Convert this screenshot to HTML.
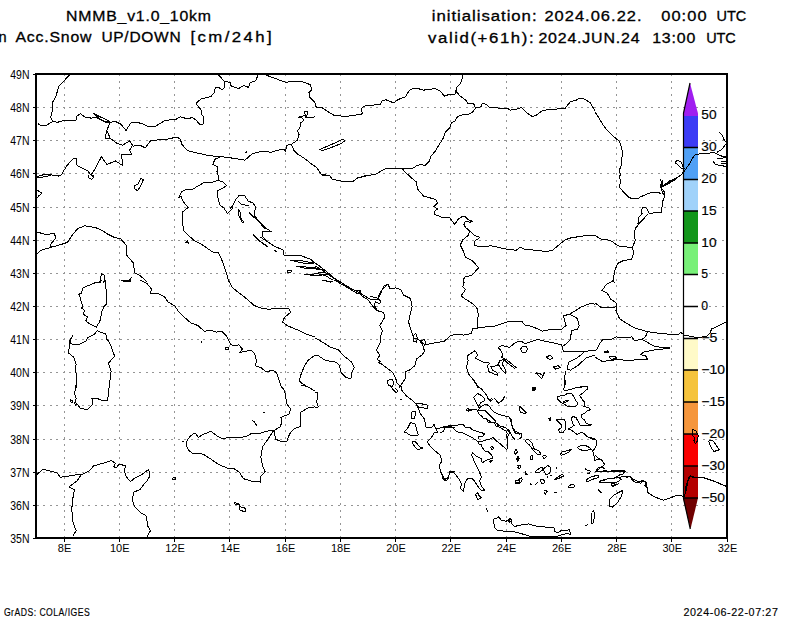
<!DOCTYPE html><html><head><meta charset="utf-8"><style>html,body{margin:0;padding:0;background:#fff;width:800px;height:618px;overflow:hidden}svg{display:block}text{font-family:"Liberation Sans",sans-serif;fill:#000}.b{stroke:#000;stroke-width:0.15px}.t{stroke:#000;stroke-width:0.3px}.b2{stroke:#000;stroke-width:0.15px;letter-spacing:0.6px}</style></head><body>
<svg width="800" height="618" viewBox="0 0 800 618">
<rect width="800" height="618" fill="#fff"/>
<path d="M64.5 75V537 M119.5 75V537 M174.5 75V537 M229.5 75V537 M285.5 75V537 M340.5 75V537 M395.5 75V537 M450.5 75V537 M506.5 75V537 M561.5 75V537 M616.5 75V537 M671.5 75V537" stroke="#959595" stroke-width="1" stroke-dasharray="2 4.6" stroke-dashoffset="1" fill="none" shape-rendering="crispEdges"/>
<path d="M37 505.5H726 M37 472.5H726 M37 439.5H726 M37 405.5H726 M37 372.5H726 M37 339.5H726 M37 306.5H726 M37 273.5H726 M37 240.5H726 M37 207.5H726 M37 173.5H726 M37 140.5H726 M37 107.5H726" stroke="#959595" stroke-width="1" stroke-dasharray="2 4.4" stroke-dashoffset="0" fill="none" shape-rendering="crispEdges"/>
<rect x="683" y="115.5" width="15" height="32.0" fill="#3c3cf5"/>
<rect x="683" y="147.5" width="15" height="32.0" fill="#50a0f5"/>
<rect x="683" y="179.5" width="15" height="31.5" fill="#a0d2fa"/>
<rect x="683" y="211" width="15" height="32" fill="#12961a"/>
<rect x="683" y="243" width="15" height="31.5" fill="#78f078"/>
<rect x="683" y="338.5" width="15" height="31.5" fill="#fffac8"/>
<rect x="683" y="370" width="15" height="32" fill="#f5c33c"/>
<rect x="683" y="402" width="15" height="32" fill="#f5963c"/>
<rect x="683" y="434" width="15" height="32" fill="#fa0000"/>
<rect x="683" y="466" width="15" height="32" fill="#b40000"/>
<path d="M683 116 L683.5 113 L690 83 L698 113.5 L698 116 Z" fill="#a01ef0"/>
<path d="M683 498 L698 498 L690.5 529 Z" fill="#700000"/>
<path d="M690 83 L683.5 113 L683.5 498.5 L690.3 529" stroke="#000" stroke-width="1.2" fill="none"/>
<path d="M683 147.5H698 M683 179.5H698 M683 211H698 M683 243H698 M683 274.5H698 M683 306.5H698 M683 338.5H698 M683 370H698 M683 402H698 M683 434H698 M683 466H698 M683 498H698" stroke="#000" stroke-width="1.4"/>
<text x="701.3" y="119.4" font-size="12.5" class="b" textLength="15.2" lengthAdjust="spacingAndGlyphs">50</text>
<text x="701.3" y="151.4" font-size="12.5" class="b" textLength="15.2" lengthAdjust="spacingAndGlyphs">30</text>
<text x="701.3" y="183.4" font-size="12.5" class="b" textLength="15.2" lengthAdjust="spacingAndGlyphs">20</text>
<text x="701.3" y="214.9" font-size="12.5" class="b" textLength="15.2" lengthAdjust="spacingAndGlyphs">15</text>
<text x="701.3" y="246.9" font-size="12.5" class="b" textLength="15.2" lengthAdjust="spacingAndGlyphs">10</text>
<text x="701.3" y="278.4" font-size="12.5" class="b" textLength="6.8" lengthAdjust="spacingAndGlyphs">5</text>
<text x="701.3" y="310.4" font-size="12.5" class="b" textLength="6.8" lengthAdjust="spacingAndGlyphs">0</text>
<text x="701.3" y="342.4" font-size="12.5" class="b" textLength="16.2" lengthAdjust="spacingAndGlyphs">−5</text>
<text x="701.3" y="373.9" font-size="12.5" class="b" textLength="23.6" lengthAdjust="spacingAndGlyphs">−10</text>
<text x="701.3" y="405.9" font-size="12.5" class="b" textLength="23.6" lengthAdjust="spacingAndGlyphs">−15</text>
<text x="701.3" y="437.9" font-size="12.5" class="b" textLength="23.6" lengthAdjust="spacingAndGlyphs">−20</text>
<text x="701.3" y="469.9" font-size="12.5" class="b" textLength="23.6" lengthAdjust="spacingAndGlyphs">−30</text>
<text x="701.3" y="501.9" font-size="12.5" class="b" textLength="23.6" lengthAdjust="spacingAndGlyphs">−50</text>
<path d="M70.0 74.4 58.6 86.6 56.0 96.2 52.5 102.4 52.5 110.2 50.8 117.2 52.5 121.6 M37.6 123.4 42.0 126.0 45.5 125.7 52.5 121.6 57.8 122.2 63.0 120.8 70.0 120.8 77.0 119.9 76.1 116.4 80.5 113.8 84.9 116.9 91.0 118.1 96.2 117.6 105.0 121.6 111.1 122.5 114.6 121.1 120.8 124.2 126.0 130.4 131.2 122.5 136.5 122.5 141.8 123.4 148.8 126.9 155.8 126.0 164.5 120.8 175.0 119.0 M92.8 113.2 98.0 115.8 105.0 119.0 112.0 123.0 105.0 122.2 99.8 119.0 92.8 113.2 M110.2 122.5 106.8 130.4 105.0 138.2 110.2 138.2 106.8 130.4 M110.2 138.2 117.2 143.5 122.5 145.2 129.5 140.9 133.0 146.1 140.0 145.2 145.2 147.9 150.5 140.9 157.5 140.0 168.0 139.1 175.0 137.4 M132.1 146.1 129.5 150.5 132.1 154.9 121.6 154.0 122.5 165.4 115.5 161.0 106.8 164.5 101.5 156.6 94.5 169.8 91.0 175.0 93.6 178.0 M91.0 175.0 87.5 170.6 77.0 165.4 76.1 158.4 72.6 159.2 66.5 166.2 61.2 175.0 57.8 175.9 45.5 174.1 36.8 176.8 M619.5 175.0 620.4 182.0 619.5 187.2 623.9 192.5 629.1 197.8 637.0 199.0 640.5 196.9 646.6 194.2 651.9 192.5 658.0 192.2 661.5 194.2 M680.8 175.0 675.5 178.5 670.2 181.1 665.0 185.5 662.4 186.4 662.4 180.2 660.6 185.5 661.5 190.8 665.0 191.6 664.1 197.8 662.4 202.1 661.5 212.6 649.2 213.2 646.6 208.2 643.1 207.4 640.9 210.9 642.2 213.5 638.8 217.0 637.9 224.0 641.4 221.4 647.5 214.4 635.2 228.4 634.4 234.5 635.2 240.6 632.6 246.8 633.5 253.8 631.8 259.0 623.0 260.8 617.8 263.4 615.1 269.5 613.4 278.2 614.2 283.0 M666.8 184.6 672.0 181.1 675.5 179.4 668.5 183.8 M595.0 235.4 600.2 238.9 607.2 239.8 612.5 241.5 617.8 245.9 632.6 247.6 M101.5 280.0 100.6 282.6 95.4 282.6 91.0 284.4 83.1 287.9 81.4 293.1 78.8 294.0 80.5 298.4 81.4 302.8 83.1 306.2 81.4 308.0 84.9 310.6 83.1 314.1 87.5 316.8 85.8 321.1 91.0 324.6 96.2 327.2 98.9 322.9 100.6 319.4 101.5 312.4 104.1 306.2 106.8 303.6 105.9 287.0 105.0 280.0 M97.1 330.8 94.5 334.2 87.5 337.8 85.8 341.2 78.8 344.8 70.9 343.9 70.0 341.2 72.6 336.0 69.1 341.2 69.1 348.2 68.2 352.6 73.5 357.0 76.1 364.0 75.2 371.0 77.0 376.2 76.1 388.0 M97.1 330.8 101.5 332.5 105.9 334.2 106.8 339.5 108.5 341.2 111.1 346.5 114.6 356.1 108.5 363.1 111.1 371.0 110.2 378.0 109.4 388.0 M120.8 280.0 126.0 281.8 131.2 280.0 M140.0 280.0 147.0 283.5 151.4 288.8 150.5 293.1 157.5 293.1 164.5 296.6 168.0 301.9 175.0 306.2 M228.4 280.0 231.9 287.0 238.0 292.2 245.0 297.5 250.2 301.9 253.8 305.4 260.8 308.0 269.5 309.4 276.5 308.0 288.8 308.4 290.5 312.4 284.4 317.6 282.6 322.0 287.0 325.5 297.5 329.9 306.2 334.2 315.0 336.9 M175.0 306.2 178.5 311.5 182.9 315.9 190.8 322.9 197.8 325.5 204.8 331.6 209.1 329.9 216.1 332.1 222.2 331.6 226.6 336.0 231.0 344.8 236.2 345.6 238.9 344.8 242.4 349.1 239.8 352.6 245.0 351.4 251.1 350.0 254.6 353.5 256.4 360.5 255.5 365.8 260.8 367.5 266.0 371.9 273.0 370.1 276.5 372.8 280.0 383.2 281.8 388.0 M201.2 341.2 201.2 343.4 M225.4 347.7 228.4 347.4 228.4 349.1 225.4 349.1 225.4 347.7 M315.0 355.2 308.0 360.5 304.5 365.8 301.0 374.5 299.2 380.6 302.8 384.1 308.0 387.1 M322.0 280.0 327.2 281.4 332.5 281.8 M334.2 280.0 346.5 287.0 355.2 292.2 359.6 290.5 361.4 295.8 367.5 299.2 372.8 306.2 377.1 310.6 383.2 312.4 385.0 316.8 382.4 321.1 379.8 325.5 382.4 330.8 380.6 336.0 380.6 341.2 378.9 345.6 376.2 350.0 379.8 355.2 377.1 359.6 380.6 361.4 378.0 362.2 381.5 364.0 388.5 369.2 392.9 372.8 395.5 378.0 397.2 383.2 400.8 387.1 M370.1 296.6 376.2 297.5 380.6 301.0 379.8 303.6 375.4 301.9 374.5 305.4 377.1 310.6 M378.0 297.5 381.5 290.5 387.6 284.4 390.2 288.8 395.5 287.9 400.8 289.6 403.4 294.9 410.4 298.4 412.1 306.2 410.4 313.2 408.6 322.0 411.2 330.8 413.9 337.8 420.0 340.4 422.6 343.0 425.2 344.8 434.0 343.0 444.5 341.2 449.8 336.0 455.0 334.2 M413.0 336.0 415.6 333.4 417.4 337.8 416.5 342.1 413.9 341.2 413.0 336.0 M420.0 341.2 424.4 339.5 426.1 343.0 423.5 346.5 421.8 343.9 420.0 341.2 M423.5 346.5 424.4 351.8 421.8 355.2 416.5 358.8 414.8 365.8 409.5 370.1 405.1 371.9 406.0 377.1 403.4 381.5 400.8 385.0 399.0 388.0 M386.8 380.6 392.0 378.9 393.8 383.2 392.0 387.1 388.5 385.0 386.8 380.6 M315.0 337.8 323.8 343.0 330.8 347.4 338.6 350.0 343.0 355.2 351.8 362.2 354.4 367.5 351.8 372.8 350.9 378.9 345.6 377.1 341.2 372.8 339.5 365.8 336.0 362.2 325.5 360.5 320.2 357.0 317.6 355.2 315.0 355.2 M463.8 280.0 462.9 287.0 465.5 289.6 461.1 295.8 465.5 299.2 472.5 303.6 476.9 308.0 478.6 315.9 477.4 318.5 477.8 328.1 M455.0 334.2 463.8 335.1 471.6 333.4 472.5 329.0 477.8 328.1 485.6 326.9 493.5 326.4 504.0 322.9 507.5 322.0 514.5 321.1 521.5 321.1 525.0 325.1 532.0 326.4 542.5 331.1 553.0 329.0 561.8 329.0 566.1 325.5 564.4 320.2 563.5 315.9 569.6 314.1 574.0 311.5 581.0 307.1 589.8 303.6 595.0 304.1 M569.6 314.1 577.5 318.5 579.2 325.5 577.5 329.0 571.4 330.8 570.5 339.5 567.0 343.0 562.6 346.5 M497.9 347.4 502.2 345.6 509.2 347.4 516.2 342.1 521.5 341.2 525.0 343.9 532.0 341.2 537.2 339.5 549.5 342.1 561.8 344.8 562.6 349.1 563.5 351.8 577.5 351.8 584.5 351.8 581.9 354.4 575.8 358.8 568.8 362.2 567.0 369.2 570.5 370.1 577.5 365.8 586.2 357.9 595.0 355.2 M584.5 351.8 593.2 350.0 595.0 350.9 M565.2 371.0 564.4 388.0 M520.6 349.1 522.4 346.5 525.9 346.1 527.6 349.1 525.9 352.6 522.4 352.6 520.6 349.1 M497.9 347.4 500.5 350.0 503.1 355.2 501.4 357.0 507.5 360.5 516.2 367.5 514.5 368.4 506.6 362.2 504.0 359.6 499.6 360.5 497.9 364.0 501.4 369.2 505.8 373.6 505.8 370.1 502.2 364.0 504.0 359.6 M499.6 361.4 497.0 365.8 490.9 366.6 492.6 370.1 497.0 372.8 497.9 375.4 489.1 371.9 487.4 365.8 490.0 363.1 483.0 362.2 475.1 357.9 477.8 355.2 476.0 351.8 474.2 350.9 467.2 356.1 468.1 360.5 466.4 367.5 469.0 374.5 476.0 383.2 477.8 388.0 M546.0 357.0 550.4 355.2 553.0 357.9 549.5 359.6 546.0 357.0 M553.0 366.6 558.2 365.8 560.9 367.5 555.6 369.2 553.0 366.6 M535.5 372.8 539.0 376.2 541.6 378.9 545.1 371.9 542.5 375.4 539.9 373.6 535.5 372.8 M577.5 387.1 586.2 386.8 M614.2 280.0 609.9 282.6 606.4 284.4 602.0 290.5 607.2 293.1 610.8 299.2 616.0 302.8 616.9 306.2 616.0 310.6 619.5 318.5 625.6 322.9 635.2 328.1 647.5 331.6 656.2 332.9 668.5 334.2 679.0 334.2 680.8 332.5 684.2 335.1 693.0 336.9 698.2 337.8 707.0 336.0 710.5 332.5 711.4 329.0 717.5 326.4 724.5 322.9 727.1 321.1 M595.0 302.8 602.0 308.0 605.5 307.1 609.9 307.1 612.5 308.0 616.9 306.2 M647.5 331.6 645.8 336.0 642.2 339.5 648.4 343.0 654.5 346.5 663.2 347.4 670.2 347.4 M642.2 339.5 634.4 340.4 631.8 336.9 625.6 337.8 616.0 336.9 610.8 339.5 602.9 339.5 600.2 343.0 596.8 349.1 595.0 350.9 M595.0 357.0 602.0 361.4 610.8 360.5 616.9 359.6 630.0 360.5 637.0 359.6 647.5 359.6 645.8 356.1 640.5 354.4 644.0 351.8 654.5 350.0 670.2 348.2 M603.8 351.8 607.2 350.9 609.0 352.1 605.5 352.6 603.8 351.8 M609.0 357.0 614.2 356.1 616.9 357.9 611.6 359.6 609.0 357.0 M76.1 385.0 74.4 393.8 76.1 398.1 75.2 402.5 77.9 405.1 80.5 408.6 87.5 409.5 92.8 404.2 91.9 398.1 96.2 398.1 103.2 400.8 107.6 400.8 109.4 385.0 M70.0 399.9 72.6 400.4 72.1 402.5 70.0 401.6 70.0 399.9 M74.4 402.5 76.7 403.4 75.6 406.0 74.4 402.5 M280.0 385.0 284.4 390.2 286.1 399.0 287.0 404.2 290.5 408.6 289.6 413.9 285.2 415.6 280.9 417.4 281.8 422.6 280.0 427.0 275.6 429.6 273.9 430.5 275.6 439.2 280.0 441.0 287.0 441.0 289.6 434.0 294.0 428.8 301.0 426.1 300.1 420.0 301.0 412.1 308.0 407.8 315.0 406.9 M301.0 385.0 308.0 386.8 315.0 391.1 M273.9 430.1 266.0 431.4 260.8 433.1 252.0 433.1 247.6 435.8 241.5 437.5 232.8 437.5 221.4 438.4 217.0 435.8 210.9 431.4 206.5 433.1 202.1 434.9 198.6 437.5 196.0 434.0 194.2 433.1 189.9 436.6 187.2 440.1 186.4 445.4 189.0 450.6 192.5 453.2 203.0 454.1 210.0 458.5 218.8 464.6 227.5 468.1 234.5 469.0 239.8 472.5 243.2 478.6 252.0 481.2 260.8 482.1 260.8 476.0 265.1 471.6 262.5 465.5 260.8 456.8 262.5 447.1 267.8 439.2 273.9 430.1 M252.0 420.0 254.6 422.1 257.2 426.1 255.1 424.4 M263.4 413.0 264.6 412.1 M182.3 441.0 184.1 441.4 M315.0 392.0 317.6 392.9 316.8 402.5 318.5 406.9 315.0 407.8 M390.2 385.0 392.9 389.4 396.4 392.9 398.1 391.1 394.6 387.6 M400.8 385.0 401.6 390.2 406.0 395.5 413.0 400.8 416.5 404.2 418.2 406.9 420.0 413.0 424.4 419.1 426.1 427.0 431.4 427.9 434.0 424.4 435.8 428.8 437.5 432.2 434.0 433.1 431.4 437.5 427.0 441.9 429.6 445.4 435.8 451.5 440.1 455.0 441.9 461.1 439.2 465.5 441.0 472.5 444.5 479.5 448.0 477.8 449.8 472.5 455.0 471.6 M416.5 404.2 420.0 403.4 427.0 405.1 427.0 408.6 422.6 407.8 417.4 407.8 416.5 404.2 M412.1 411.2 415.6 411.2 414.8 418.2 412.1 419.1 411.2 414.8 412.1 411.2 M404.2 432.2 407.8 427.9 410.4 422.6 414.8 423.5 416.5 428.8 418.2 434.9 413.9 435.8 409.5 434.9 406.9 433.1 404.2 432.2 M412.1 441.9 415.6 441.9 420.0 447.1 422.6 448.0 418.2 449.8 414.8 447.1 412.1 441.9 M435.8 428.8 444.5 427.0 449.8 426.1 455.0 427.9 M400.4 398.6 401.6 400.1 M440.0 427.8 445.2 426.5 449.7 425.8 463.3 424.5 465.9 427.8 469.8 427.1 472.4 429.7 477.5 431.7 484.7 433.6 482.7 436.2 478.8 436.8 478.2 439.4 M440.0 432.9 443.2 431.7 445.2 427.8 449.7 427.8 452.9 427.8 456.8 431.7 462.7 432.9 468.5 435.5 475.0 439.4 478.8 442.0 478.2 443.9 481.4 444.6 482.1 447.2 485.3 451.7 488.5 451.1 489.2 453.0 491.8 455.0 492.4 458.2 487.9 459.5 483.4 462.1 482.1 462.7 481.4 458.8 477.5 456.9 472.4 453.0 471.7 455.0 473.7 460.1 476.2 465.3 478.8 470.5 481.4 477.0 479.5 480.8 481.4 486.0 484.7 490.6 481.4 490.6 477.5 486.0 474.3 480.8 472.4 478.9 467.8 478.3 465.2 482.1 463.9 488.6 463.9 491.8 460.7 488.6 461.4 483.4 459.4 479.5 454.9 473.7 452.9 471.8 449.7 471.8 449.1 474.4 447.8 479.5 445.8 480.8 442.6 478.9 441.9 474.4 440.0 470.5 M478.8 442.0 484.0 440.7 490.5 438.8 493.1 437.5 497.0 441.4 500.2 443.9 504.7 447.8 506.7 449.8 508.0 445.9 507.3 436.8 509.9 432.9 506.0 427.8 499.5 425.8 495.7 422.6 491.8 422.6 487.9 420.0 M490.2 447.2 491.8 446.5 493.7 447.8 492.4 449.8 490.2 447.2 M489.2 461.4 493.1 460.1 489.8 462.7 M513.8 452.4 516.4 449.8 517.7 451.7 515.7 454.3 513.8 452.4 M517.0 457.5 518.3 456.9 519.0 459.5 517.7 461.4 517.0 457.5 M517.7 467.9 519.0 466.0 M515.7 480.8 519.6 480.6 519.2 483.4 515.7 483.4 515.7 480.8 M475.6 494.4 477.5 492.5 478.8 495.1 481.4 497.7 477.5 499.6 475.6 494.4 M510.6 420.0 512.5 427.8 515.1 432.9 520.0 434.2 M474.5 380.0 475.0 382.5 476.5 385.0 479.0 387.5 481.5 389.0 484.0 392.0 486.5 395.0 488.0 398.5 489.5 400.0 M473.5 397.5 477.5 393.5 481.5 395.5 484.5 398.5 484.0 401.0 480.5 403.0 479.0 405.5 478.5 407.5 477.5 405.0 475.5 400.5 473.5 397.5 M489.5 400.0 491.5 398.5 492.5 399.5 490.5 401.0 489.5 400.0 M494.5 398.0 497.0 401.5 499.0 403.0 501.0 401.5 503.0 399.0 504.5 396.5 503.5 399.5 501.0 401.0 498.0 403.5 M478.0 410.0 481.0 406.5 485.0 404.5 487.0 404.5 489.5 406.5 491.0 409.0 494.5 412.5 499.0 414.5 503.0 415.5 509.0 417.0 512.0 421.0 511.5 424.0 513.0 428.0 515.0 431.0 518.0 432.5 521.5 434.0 522.0 437.0 519.0 439.0 M478.0 410.0 485.0 410.5 488.0 413.5 491.0 416.5 495.0 420.5 496.0 423.0 498.0 425.5 503.0 427.0 506.0 428.0 509.0 430.5 510.0 432.0 512.0 436.0 515.0 440.0 M466.0 410.0 467.5 408.5 470.5 410.0 471.5 410.0 475.0 409.0 477.0 410.0 479.0 414.0 482.0 416.5 483.5 418.5 486.0 418.0 487.5 420.0 488.0 422.0 494.0 422.5 496.0 426.0 500.0 427.5 506.0 431.0 507.5 433.5 506.5 435.0 507.5 440.0 M466.0 410.0 468.0 411.2 471.0 410.0 M519.0 406.5 520.5 407.0 526.0 412.5 525.0 413.5 521.0 412.5 519.0 409.0 519.0 406.5 M532.0 388.5 534.0 387.0 535.0 390.0 533.0 390.5 532.0 388.5 M565.5 380.0 565.0 385.0 563.5 390.0 568.0 390.0 571.0 389.5 575.0 388.0 582.0 387.0 587.0 386.5 587.5 389.0 584.0 392.0 579.5 395.5 582.0 399.0 585.0 403.0 584.0 406.5 589.0 408.0 590.5 410.0 587.5 410.5 585.0 413.0 582.0 414.5 581.5 417.5 584.5 420.0 586.0 423.0 588.0 424.0 592.0 424.5 590.0 425.5 586.0 425.5 582.0 426.0 580.0 425.0 579.0 423.0 577.0 419.5 576.0 417.5 573.0 416.5 571.5 418.0 572.5 423.0 574.0 425.5 572.0 427.0 568.5 429.0 571.0 430.0 574.0 432.0 577.0 434.5 582.0 432.0 585.0 434.5 587.0 436.5 592.0 439.0 596.0 440.0 M557.5 396.5 558.0 399.5 561.0 402.5 564.5 404.5 568.0 406.5 572.0 407.0 576.0 406.0 578.0 404.0 576.5 401.5 574.0 397.0 572.0 394.0 568.0 393.0 564.5 395.5 560.0 396.0 557.5 396.5 M563.0 402.5 566.0 400.0 569.0 400.0 567.0 401.5 564.0 403.0 M556.5 420.0 559.0 419.5 564.0 419.5 565.5 422.0 565.5 429.5 563.0 432.5 560.0 432.5 558.0 430.0 561.0 428.0 561.5 425.0 559.5 423.0 556.5 420.0 M533.0 388.0 535.0 387.5 535.5 389.5 533.5 390.0 533.0 388.0 M548.5 418.5 550.5 418.0 550.5 421.0 548.5 418.5 M525.7 439.5 528.5 439.5 531.9 442.9 533.0 446.2 533.6 448.5 535.8 449.6 539.8 451.3 540.3 454.1 538.1 454.7 534.7 451.9 531.9 448.5 529.6 445.1 525.7 441.8 525.7 439.5 M515.0 450.2 516.7 449.6 517.2 451.9 515.6 454.1 M516.7 457.5 518.4 456.4 519.5 458.6 517.8 460.9 516.7 459.2 516.7 457.5 M530.8 455.8 532.4 455.2 533.0 459.2 530.8 459.2 530.8 455.8 M542.6 455.8 545.4 455.2 546.5 456.9 543.7 458.6 542.6 455.8 M560.6 454.1 562.2 451.9 566.8 450.8 571.2 449.1 569.0 451.9 564.5 454.1 561.1 455.2 560.6 454.1 M577.4 447.4 580.2 445.7 585.9 445.7 589.2 447.4 591.5 449.6 587.0 450.2 583.6 450.8 579.1 449.1 577.4 447.4 M584.8 435.0 587.0 436.7 593.8 438.4 596.0 440.1 596.6 445.1 594.9 448.5 592.6 450.8 593.8 455.2 594.9 460.3 600.5 459.2 602.8 462.0 605.0 464.2 M596.0 471.0 598.2 467.6 601.6 467.1 605.0 468.8 M596.0 471.0 605.0 471.6 M585.3 468.8 587.0 469.9 590.4 471.0 589.2 473.8 587.6 473.2 M586.4 480.0 589.2 477.8 593.8 476.1 598.2 475.5 598.2 477.8 593.8 478.9 588.7 481.1 587.0 481.7 586.4 480.0 M599.4 481.7 602.8 480.0 605.0 480.0 M599.4 482.8 605.0 482.8 M597.7 489.6 600.5 491.2 601.6 492.4 599.4 491.8 M543.7 468.8 547.6 465.4 550.4 467.1 551.0 470.4 548.8 473.8 545.9 474.4 544.2 472.1 543.7 468.8 M534.7 472.1 538.6 468.8 542.0 467.1 542.6 469.9 539.8 472.1 534.7 472.1 M556.1 467.6 556.9 468.3 M525.1 471.0 526.2 473.2 527.4 474.4 525.7 474.4 524.6 472.7 M517.2 465.4 520.1 465.4 520.6 467.6 518.4 468.8 M515.0 480.6 518.4 480.0 521.2 477.8 522.3 479.4 520.6 482.8 516.1 482.8 515.0 481.7 M530.2 483.9 532.4 485.1 M535.2 484.5 538.6 481.7 M540.3 480.0 543.1 479.4 544.8 481.7 543.7 483.4 541.4 483.4 540.3 480.0 M546.5 477.2 547.6 476.6 547.6 478.3 M550.4 476.1 551.6 475.5 M554.4 479.4 557.8 477.2 561.1 474.9 562.8 474.4 563.4 476.1 560.0 477.8 556.1 479.4 554.4 479.4 M568.4 486.2 571.2 484.5 574.1 485.1 574.6 486.8 570.7 487.9 569.0 487.9 568.4 486.2 M544.2 490.1 546.5 490.1 547.1 491.8 545.4 494.1 544.2 492.4 M553.8 492.4 556.6 492.9 M175.0 119.9 180.2 116.9 187.2 118.7 192.5 117.6 196.0 119.9 199.5 124.2 203.0 124.2 203.9 117.2 201.2 113.8 202.1 111.1 197.8 105.9 196.0 103.2 201.2 98.9 210.9 96.6 214.4 92.4 215.2 87.5 219.6 88.0 222.2 89.6 224.9 87.5 224.9 81.9 218.8 75.2 215.2 74.2 M224.9 81.9 227.5 81.9 230.1 82.6 231.0 85.8 235.4 87.5 238.9 88.4 244.1 85.4 248.5 87.5 250.2 82.6 255.5 80.8 257.2 77.0 258.1 74.2 M264.2 74.4 271.2 77.0 285.2 82.2 297.5 81.4 304.5 82.2 310.6 84.9 311.5 90.1 308.9 92.8 309.8 97.1 315.0 102.4 M175.0 137.4 177.6 137.4 180.2 139.1 182.0 144.4 187.2 150.5 197.8 153.1 210.0 155.8 220.5 156.6 234.5 158.4 245.0 160.1 252.0 154.0 260.8 151.4 271.2 152.2 280.0 149.6 284.4 149.6 285.2 151.4 287.0 145.2 291.4 144.4 297.5 140.0 299.2 134.8 297.5 131.2 300.1 126.9 301.0 122.5 303.6 120.8 302.8 118.1 298.4 117.2 305.4 115.2 304.5 112.0 308.0 111.1 307.1 115.2 305.4 117.2 313.2 117.2 315.0 116.4 M220.5 156.6 215.2 159.2 212.6 164.5 217.9 167.1 217.0 171.5 218.8 177.1 M291.4 144.4 294.0 150.5 297.5 154.0 304.5 158.4 313.2 165.4 315.0 166.2 M245.0 152.6 246.8 151.9 M595.0 455.0 598.5 458.5 602.0 460.2 604.6 464.6 601.1 467.2 596.8 470.8 595.0 471.6 M596.8 471.6 605.5 470.8 612.5 471.6 624.8 470.8 625.6 471.6 M600.2 481.2 603.8 479.5 609.0 478.6 614.2 478.6 616.0 476.9 619.5 477.8 623.0 476.0 626.5 476.9 630.0 476.9 632.6 480.4 637.0 483.0 642.2 480.4 645.8 482.1 644.9 485.6 647.5 488.2 647.5 493.0 M610.8 483.9 614.2 483.0 616.0 484.8 612.5 486.5 610.8 483.9 M621.2 490.0 623.0 491.8 M693.0 429.6 696.5 431.4 698.2 435.8 697.4 441.0 695.6 443.6 693.9 441.0 694.8 437.5 693.0 435.8 692.1 432.2 693.0 429.6 M708.8 441.0 712.2 440.1 715.8 444.5 719.2 449.8 714.0 451.5 711.4 448.0 709.6 444.5 708.8 441.0 M689.5 476.0 692.1 476.9 703.5 477.8 714.0 481.2 726.2 486.5 M689.5 476.0 687.8 481.2 686.0 486.5 685.1 492.1 M81.4 474.6 77.0 480.8 69.1 486.9 74.4 489.5 72.6 500.0 71.8 508.8 72.6 521.0 76.1 530.6 72.6 536.4 M148.8 469.4 149.6 476.4 147.0 480.8 142.6 486.0 140.0 489.5 133.9 492.1 132.1 500.0 134.8 507.0 140.0 512.2 146.1 515.8 147.9 526.2 150.5 530.6 147.0 536.4 M36.8 474.6 42.9 469.4 50.8 471.1 56.9 472.9 60.4 477.2 66.5 476.4 77.0 474.6 81.4 474.6 89.2 471.1 93.6 465.9 103.2 463.2 111.1 460.6 115.5 463.2 113.8 466.8 116.4 467.6 119.0 464.1 126.0 465.9 124.2 469.4 126.0 476.4 130.4 481.6 134.8 478.1 141.8 474.6 148.8 469.4 M172.4 478.1 175.0 477.2 175.0 479.9 173.2 479.9 172.4 478.1 M234.0 503.2 235.5 502.2 236.5 503.5 239.0 503.5 239.2 505.0 239.5 510.0 242.0 510.0 242.5 511.5 245.5 511.5 245.5 509.2 243.8 507.2 241.0 507.2 239.8 505.8 239.0 504.5 235.5 504.5 234.0 503.2 M493.5 518.6 494.4 527.4 497.0 530.0 507.5 531.8 514.5 531.8 526.8 535.2 532.0 537.0 546.0 536.1 554.8 537.0 560.0 535.2 567.0 533.5 570.5 534.4 569.6 529.1 567.0 530.9 561.8 530.0 558.2 532.6 554.8 531.8 553.9 527.4 549.5 527.4 539.0 526.5 533.8 525.6 528.5 523.9 521.5 524.8 514.5 526.5 511.9 523.9 511.0 519.5 508.4 520.4 505.8 521.2 501.4 520.4 498.8 516.9 496.1 518.6 493.5 518.6 M507.5 520.4 510.1 518.6 511.9 521.2 509.2 522.1 507.5 520.4 M486.5 508.1 487.4 511.6 M591.5 512.5 593.2 510.8 595.0 514.2 593.2 523.0 591.5 523.9 591.5 512.5 M585.4 525.6 588.0 524.8 M626.5 477.5 630.0 476.6 633.5 479.2 637.0 481.0 640.5 483.6 642.2 481.0 646.6 482.8 647.5 492.4 654.5 496.8 663.2 500.2 668.5 498.5 675.5 495.9 679.0 495.0 684.2 496.8 686.0 491.5 687.8 481.0 690.4 475.8 693.0 477.5 703.5 477.5 714.0 481.0 726.2 486.2 M609.0 500.2 614.2 495.0 618.6 492.4 623.0 490.6 621.2 496.8 617.8 502.0 612.5 507.2 609.9 506.4 609.0 500.2 M596.8 471.4 605.5 471.4 617.8 470.5 624.8 471.4 623.0 474.0 619.5 474.9 616.0 477.5 M599.4 481.9 605.5 479.2 610.8 478.4 617.8 477.5 621.2 479.2 617.8 481.9 610.8 482.8 602.0 482.8 599.4 481.9 M610.8 486.2 616.0 484.5 619.5 483.6 M598.5 489.8 601.1 492.4 M315.0 103.2 315.0 105.0 316.8 107.6 322.0 107.6 327.2 111.1 334.2 115.5 346.5 116.4 353.5 115.2 360.5 114.6 363.1 112.9 361.4 111.1 362.2 107.6 364.9 105.9 374.5 105.0 380.6 104.1 382.4 100.6 385.9 99.8 390.2 101.5 393.8 102.9 396.4 100.6 401.6 98.0 405.1 97.1 409.5 90.1 413.0 88.4 419.1 88.9 423.5 90.1 428.8 89.6 434.9 88.4 440.1 91.0 444.5 96.2 448.9 94.5 455.0 94.2 M319.4 149.6 325.5 147.0 337.8 141.8 343.0 139.1 344.8 140.9 341.2 143.5 332.5 147.0 322.9 150.5 319.4 149.6 M455.0 121.6 451.5 122.5 449.8 127.8 445.4 132.1 442.8 139.1 439.2 144.4 435.8 150.5 430.5 156.6 429.6 161.0 425.2 165.4 420.0 164.5 416.5 165.9 413.0 168.0 402.5 168.9 392.0 168.3 386.8 168.0 381.5 170.6 376.2 174.1 365.8 175.9 358.8 178.0 M402.5 168.9 406.0 173.2 411.2 177.1 M315.0 166.2 317.6 168.9 321.1 174.1 329.9 175.9 330.8 178.0 M462.9 74.4 462.0 78.8 460.2 84.0 456.8 87.5 455.9 91.0 455.0 94.2 M455.9 91.0 460.2 96.2 465.5 99.8 468.1 103.6 472.5 103.2 474.2 104.7 475.6 108.2 M455.0 120.8 457.6 116.4 463.8 114.6 468.1 114.6 472.5 112.0 475.6 108.2 481.2 106.8 482.1 103.6 485.6 104.1 490.0 107.6 494.4 107.1 500.5 108.8 507.5 108.2 510.1 110.2 515.4 109.4 521.5 107.6 526.8 112.9 532.0 116.4 535.5 115.8 541.6 111.1 546.0 109.9 553.0 109.4 565.2 108.2 570.5 101.5 575.8 100.6 579.2 98.0 585.4 99.4 590.6 103.2 595.0 111.1 M595.0 112.0 598.5 117.2 603.8 126.0 607.2 130.4 612.5 135.6 617.8 140.0 619.5 141.8 621.2 147.0 623.0 154.0 621.2 159.2 621.2 165.4 619.5 169.8 620.4 175.0 619.5 178.0 M660.0 188.1 664.9 184.5 669.7 180.8 675.8 178.4 680.6 175.4 684.3 171.1 687.3 166.9 690.3 162.6 692.8 157.8 695.2 154.7 700.0 153.9 708.5 153.2 713.4 152.3 717.0 154.1 720.7 155.9 726.1 156.6 M674.6 162.6 677.6 160.2 681.2 162.0 682.5 165.7 684.3 168.7 681.8 168.7 678.2 165.0 674.6 162.6 M719.5 132.3 722.5 135.3 723.7 139.0 725.5 142.0 M725.5 144.4 721.9 149.3 717.0 152.3 M717.0 158.4 726.1 157.8 M713.4 161.4 715.2 164.4 720.7 165.7 726.1 166.3 M720.7 161.4 726.1 161.4 M720.7 163.8 726.1 163.8 M660.0 179.6 661.8 182.0 661.2 188.1 663.6 190.5 662.4 193.0 664.9 195.4 663.6 199.0 M36.8 177.6 42.9 177.1 49.0 175.9 50.8 175.0 M56.9 175.0 58.6 176.4 61.2 175.0 M88.4 175.0 89.2 178.5 91.9 179.4 93.6 176.8 92.8 175.0 M133.9 188.1 137.4 190.8 140.0 187.2 143.5 179.4 140.9 178.5 138.2 183.8 134.8 185.5 133.9 188.1 M36.8 189.9 42.0 193.4 38.5 196.0 36.8 198.6 M36.8 231.9 45.5 234.5 54.2 233.6 56.0 238.0 50.8 244.1 49.9 245.9 52.5 246.8 M36.8 253.8 41.1 250.2 47.2 248.5 52.5 246.8 59.5 245.0 67.4 242.4 72.6 234.5 77.9 228.4 84.9 225.8 95.4 227.5 101.5 230.1 106.8 233.6 113.8 237.1 120.8 238.9 126.0 245.0 126.9 255.5 133.0 262.5 134.8 273.0 140.0 275.6 147.0 281.8 M99.8 282.1 101.5 273.9 104.1 274.8 105.0 280.0 103.2 283.0 M94.5 282.1 98.0 282.1 M122.5 280.0 129.5 280.0 131.2 277.4 130.4 281.8 122.5 280.9 M218.8 175.0 217.9 180.2 M178.5 197.8 182.0 191.6 187.2 189.0 191.6 189.9 196.0 187.2 204.8 182.0 212.6 182.3 217.9 180.2 223.1 182.0 226.6 185.5 223.1 188.1 217.0 190.8 217.9 197.8 219.6 204.8 224.0 208.2 227.5 213.5 231.9 209.1 232.8 206.5 M178.5 197.8 181.1 196.0 182.9 201.2 188.1 207.4 182.9 211.8 182.0 218.8 183.8 231.0 194.2 240.6 201.2 244.1 212.6 252.0 217.9 252.0 222.2 260.8 225.8 271.2 229.2 283.0 M185.5 242.4 187.2 240.6 188.7 243.2 185.5 242.4 M230.0 209.0 233.0 205.0 236.0 199.0 239.0 195.6 245.0 196.0 248.0 201.0 253.0 203.0 255.0 206.0 255.0 210.0 254.0 215.0 258.0 220.0 262.0 224.0 267.0 229.0 272.0 232.0 265.0 231.0 262.0 232.0 263.0 237.0 268.0 242.0 274.0 246.0 283.0 250.0 284.0 255.0 290.0 255.0 299.0 255.0 310.0 259.0 318.0 265.0 326.0 271.0 334.0 278.0 342.0 283.0 350.0 288.0 358.0 292.0 370.0 299.0 378.0 299.0 384.0 286.0 388.0 284.0 390.0 288.0 M238.0 201.0 241.0 204.0 245.0 205.0 249.0 206.0 M238.0 209.0 240.0 212.0 241.0 218.0 244.0 223.0 242.0 222.0 239.0 216.0 238.0 209.0 M249.0 212.0 252.0 215.0 258.0 220.0 263.0 227.0 266.0 229.0 262.0 225.0 256.0 219.0 250.0 214.0 249.0 212.0 M253.0 234.0 258.0 239.0 263.0 244.0 268.0 247.0 264.0 244.0 258.0 240.0 253.0 235.0 M260.0 237.0 265.0 240.0 268.0 242.0 M274.0 250.0 277.0 252.0 M290.0 260.0 298.0 260.0 308.0 262.0 314.0 263.0 308.0 264.0 298.0 262.0 290.0 260.0 M296.0 266.0 306.0 267.0 316.0 268.0 324.0 270.0 316.0 269.0 306.0 268.4 296.0 266.0 M304.0 274.0 314.0 274.0 322.0 272.0 330.0 274.0 322.0 275.0 314.0 275.6 304.0 274.0 M322.0 280.0 332.0 282.0 M287.0 270.0 291.0 270.0 291.0 272.4 287.0 272.0 287.0 270.0 M356.0 290.0 361.0 291.0 360.0 294.0 356.0 293.0 356.0 290.0 M322.0 175.0 329.9 175.9 332.5 179.4 341.2 181.1 353.5 181.1 357.9 177.6 362.2 176.8 367.5 175.0 M407.8 175.0 416.5 182.0 417.4 189.0 423.5 196.0 435.8 199.5 437.5 203.0 434.0 206.5 437.5 209.1 434.0 211.8 434.9 214.4 441.0 217.0 449.8 217.9 455.0 224.9 M315.0 266.0 323.8 271.2 332.5 277.4 339.5 282.1 M315.0 273.0 325.5 275.6 332.5 280.0 M322.0 280.0 330.8 282.1 M455.0 224.0 458.5 218.8 462.9 216.1 465.5 217.0 468.1 219.6 472.5 221.4 469.9 222.2 465.5 221.4 463.8 224.0 465.5 227.5 469.9 231.0 474.2 235.4 479.5 237.1 478.6 238.9 475.1 240.6 474.2 245.0 477.8 246.4 491.8 245.9 507.5 249.4 516.2 250.2 520.6 247.1 525.0 249.4 540.8 250.6 545.1 252.0 553.0 249.9 560.0 244.1 565.2 239.8 570.5 238.0 586.2 235.4 595.0 235.4 M469.9 231.0 468.1 235.4 462.9 239.8 460.2 245.0 462.9 250.2 465.5 257.2 472.5 260.8 478.6 267.8 471.6 275.6 465.5 276.5 462.9 280.0 464.6 283.0" stroke="#000" stroke-width="1" fill="none" stroke-linejoin="round" shape-rendering="crispEdges"/>
<rect x="36" y="74" width="691" height="464" fill="none" stroke="#000" stroke-width="2"/>
<path d="M33 538.5H35 M33 505.5H35 M33 472.5H35 M33 439.5H35 M33 405.5H35 M33 372.5H35 M33 339.5H35 M33 306.5H35 M33 273.5H35 M33 240.5H35 M33 207.5H35 M33 173.5H35 M33 140.5H35 M33 107.5H35 M33 74.5H35 M64.5 539V542 M119.5 539V542 M174.5 539V542 M229.5 539V542 M285.5 539V542 M340.5 539V542 M395.5 539V542 M450.5 539V542 M506.5 539V542 M561.5 539V542 M616.5 539V542 M671.5 539V542 M727.5 539V542" stroke="#000" stroke-width="1"/>
<text x="10.3" y="542.9" font-size="12" textLength="19.2" lengthAdjust="spacingAndGlyphs">35N</text>
<text x="10.3" y="509.9" font-size="12" textLength="19.2" lengthAdjust="spacingAndGlyphs">36N</text>
<text x="10.3" y="476.9" font-size="12" textLength="19.2" lengthAdjust="spacingAndGlyphs">37N</text>
<text x="10.3" y="443.9" font-size="12" textLength="19.2" lengthAdjust="spacingAndGlyphs">38N</text>
<text x="10.3" y="409.9" font-size="12" textLength="19.2" lengthAdjust="spacingAndGlyphs">39N</text>
<text x="10.3" y="376.9" font-size="12" textLength="19.2" lengthAdjust="spacingAndGlyphs">40N</text>
<text x="10.3" y="343.9" font-size="12" textLength="19.2" lengthAdjust="spacingAndGlyphs">41N</text>
<text x="10.3" y="310.9" font-size="12" textLength="19.2" lengthAdjust="spacingAndGlyphs">42N</text>
<text x="10.3" y="277.9" font-size="12" textLength="19.2" lengthAdjust="spacingAndGlyphs">43N</text>
<text x="10.3" y="244.9" font-size="12" textLength="19.2" lengthAdjust="spacingAndGlyphs">44N</text>
<text x="10.3" y="211.9" font-size="12" textLength="19.2" lengthAdjust="spacingAndGlyphs">45N</text>
<text x="10.3" y="177.9" font-size="12" textLength="19.2" lengthAdjust="spacingAndGlyphs">46N</text>
<text x="10.3" y="144.9" font-size="12" textLength="19.2" lengthAdjust="spacingAndGlyphs">47N</text>
<text x="10.3" y="111.9" font-size="12" textLength="19.2" lengthAdjust="spacingAndGlyphs">48N</text>
<text x="10.3" y="78.9" font-size="12" textLength="19.2" lengthAdjust="spacingAndGlyphs">49N</text>
<text x="64.5" y="552" font-size="11" text-anchor="middle">8E</text>
<text x="119.75" y="552" font-size="11" text-anchor="middle">10E</text>
<text x="175.0" y="552" font-size="11" text-anchor="middle">12E</text>
<text x="230.25" y="552" font-size="11" text-anchor="middle">14E</text>
<text x="285.5" y="552" font-size="11" text-anchor="middle">16E</text>
<text x="340.75" y="552" font-size="11" text-anchor="middle">18E</text>
<text x="396.0" y="552" font-size="11" text-anchor="middle">20E</text>
<text x="451.25" y="552" font-size="11" text-anchor="middle">22E</text>
<text x="506.5" y="552" font-size="11" text-anchor="middle">24E</text>
<text x="561.75" y="552" font-size="11" text-anchor="middle">26E</text>
<text x="617.0" y="552" font-size="11" text-anchor="middle">28E</text>
<text x="672.25" y="552" font-size="11" text-anchor="middle">30E</text>
<text x="727.5" y="552" font-size="11" text-anchor="middle">32E</text>
<text transform="translate(66.00 20.7) scale(1.084 1)" x="0" y="0" font-size="14.6" class="t" textLength="133.7" lengthAdjust="spacing">NMMB_v1.0_10km</text>
<text transform="translate(-1.60 42.3) scale(1.000 1)" x="0" y="0" font-size="14.6" class="t" textLength="6.2" lengthAdjust="spacing">n</text>
<text transform="translate(15.40 42.3) scale(1.087 1)" x="0" y="0" font-size="14.6" class="t" textLength="70.1" lengthAdjust="spacing">Acc.Snow</text>
<text transform="translate(101.40 42.3) scale(1.062 1)" x="0" y="0" font-size="14.6" class="t" textLength="74.6" lengthAdjust="spacing">UP/DOWN</text>
<text transform="translate(190.40 42.3) scale(1.150 1)" x="0" y="0" font-size="14.6" class="t" textLength="70.6" lengthAdjust="spacing">[cm/24h]</text>
<text transform="translate(431.80 20.7) scale(1.150 1)" x="0" y="0" font-size="14.6" class="t" textLength="91.1" lengthAdjust="spacing">initialisation:</text>
<text transform="translate(544.40 20.7) scale(1.130 1)" x="0" y="0" font-size="14.6" class="t" textLength="86.0" lengthAdjust="spacing">2024.06.22.</text>
<text transform="translate(661.15 20.7) scale(1.123 1)" x="0" y="0" font-size="14.6" class="t" textLength="40.5" lengthAdjust="spacing">00:00</text>
<text transform="translate(716.60 20.7) scale(0.995 1)" x="0" y="0" font-size="14.6" class="t" textLength="29.8" lengthAdjust="spacing">UTC</text>
<text transform="translate(428.00 42.5) scale(1.150 1)" x="0" y="0" font-size="14.6" class="t" textLength="91.8" lengthAdjust="spacing">valid(+61h):</text>
<text transform="translate(538.40 42.5) scale(1.094 1)" x="0" y="0" font-size="14.6" class="t" textLength="92.5" lengthAdjust="spacing">2024.JUN.24</text>
<text transform="translate(652.15 42.5) scale(1.092 1)" x="0" y="0" font-size="14.6" class="t" textLength="39.6" lengthAdjust="spacing">13:00</text>
<text transform="translate(706.15 42.5) scale(0.994 1)" x="0" y="0" font-size="14.6" class="t" textLength="29.8" lengthAdjust="spacing">UTC</text>
<text x="3.9" y="616" font-size="11" class="b2" textLength="86.4" lengthAdjust="spacingAndGlyphs">GrADS: COLA/IGES</text>
<text x="683.4" y="616" font-size="11" class="b2" textLength="95.1" lengthAdjust="spacingAndGlyphs">2024-06-22-07:27</text>
</svg></body></html>
